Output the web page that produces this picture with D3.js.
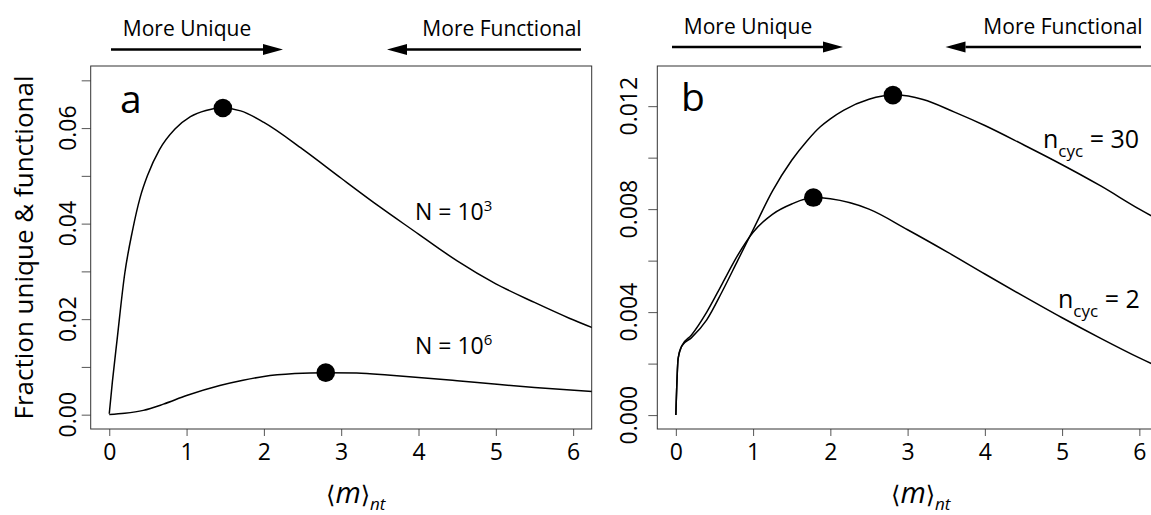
<!DOCTYPE html>
<html>
<head>
<meta charset="utf-8">
<script src="https://cdn.jsdelivr.net/npm/d3@7"></script>
<style>
  body { margin: 0; background: #fff; }
  svg { display: block; }
  text { font-family: "Open Sans", "DejaVu Sans", sans-serif; fill: #000; }
</style>
</head>
<body>
<svg id="chart" width="1151" height="515"></svg>
<script>
// ---- Panel a: fraction unique & functional vs <m>_nt, two library sizes ----
const mN3 = [0, 0.04, 0.1, 0.2, 0.3, 0.4, 0.5, 0.65, 0.85, 1.05, 1.25, 1.47, 1.7, 2.0, 2.5, 3.0, 3.5, 4.0, 4.27, 4.5, 5.0, 5.5, 5.95, 6.3];
const fN3 = [0.0002, 0.0068, 0.0155, 0.0295, 0.0385, 0.0455, 0.0503, 0.0555, 0.0598, 0.0624, 0.0637, 0.0642, 0.0636, 0.0612, 0.0556, 0.0495, 0.0435, 0.0378, 0.0347, 0.0322, 0.0274, 0.0235, 0.0202, 0.0179];
const mN6 = [0, 0.2, 0.44, 0.7, 1.0, 1.43, 1.73, 2.0, 2.4, 2.8, 3.2, 3.6, 4.0, 4.5, 5.05, 5.5, 6.3];
const fN6 = [0.00005, 0.0003, 0.0009, 0.0022, 0.0040, 0.0061, 0.0072, 0.0080, 0.0086, 0.0088, 0.0087, 0.0083, 0.0078, 0.0071, 0.0063, 0.0057, 0.0048];
const peaksA = [[1.47, 0.0642], [2.8, 0.0088]];

// ---- Panel b: two numbers of PCR cycles ----
const mC30 = [0, 0.03, 0.08, 0.2, 0.4, 0.6, 0.8, 1.0, 1.25, 1.5, 1.7, 1.87, 2.0, 2.17, 2.5, 2.85, 3.2, 3.6, 4.0, 4.5, 4.89, 5.5, 6.0, 6.3];
const fC30 = [0, 0.0022, 0.0027, 0.0030, 0.0037, 0.0048, 0.0060, 0.0072, 0.0087, 0.0099, 0.01066, 0.0112, 0.01151, 0.01184, 0.01227, 0.01243, 0.01226, 0.01178, 0.01125, 0.0105, 0.0099, 0.0089, 0.0080, 0.0075];
const mC2 = [0, 0.03, 0.08, 0.2, 0.4, 0.6, 0.8, 1.0, 1.25, 1.5, 1.78, 2.0, 2.5, 3.0, 3.51, 4.0, 4.5, 5.0, 5.5, 6.0, 6.3];
const fC2 = [0, 0.0022, 0.0027, 0.0031, 0.0040, 0.0051, 0.0062, 0.0071, 0.0078, 0.0082, 0.00845, 0.0084, 0.0080, 0.0072, 0.00634, 0.00548, 0.00462, 0.00378, 0.00298, 0.00222, 0.0018];
const peaksB = [[2.81, 0.01243], [1.78, 0.00845]];

// ---- Tick values ----
const xTicks = [0, 1, 2, 3, 4, 5, 6];
const yTicksA = [0, 0.01, 0.02, 0.03, 0.04, 0.05, 0.06, 0.07];
const yLabelsA = ["0.00", "0.02", "0.04", "0.06"];
const yTicksB = [0, 0.002, 0.004, 0.006, 0.008, 0.010, 0.012];
const yLabelsB = ["0.000", "0.004", "0.008", "0.012"];

const svg = d3.select("#chart");
const zip = (xs, ys) => xs.map((x, i) => [x, ys[i]]);

function panel(cfg) {
  const x = d3.scaleLinear().domain([-0.24, 6.24]).range([cfg.left, cfg.right]);
  const y = d3.scaleLinear().domain(cfg.yDomain).range([cfg.bottom, cfg.top]);
  const g = svg.append("g");

  const clipId = "clip-" + cfg.name;
  svg.append("clipPath").attr("id", clipId)
    .append("rect")
    .attr("x", cfg.left).attr("y", cfg.top)
    .attr("width", cfg.right - cfg.left).attr("height", cfg.bottom - cfg.top);

  // x axis
  const xa = g.append("g").attr("transform", `translate(0,${cfg.bottom})`)
    .call(d3.axisBottom(x).tickValues(xTicks).tickSize(7).tickPadding(8).tickFormat(d3.format("d")));
  xa.select(".domain").remove();
  xa.selectAll("line").attr("stroke", "#555");
  xa.selectAll("text").attr("font-size", 23).attr("font-family", null);

  // y axis: ticks, labels rotated parallel to the axis
  const ya = g.append("g").attr("transform", `translate(${cfg.left},0)`)
    .call(d3.axisLeft(y).tickValues(cfg.yTicks).tickSize(9).tickFormat(""));
  ya.select(".domain").remove();
  ya.selectAll("line").attr("stroke", "#555");
  g.selectAll(null).data(cfg.yLabels).enter().append("text")
    .attr("transform", d => `translate(${cfg.labelX},${y(+d)}) rotate(-90)`)
    .attr("text-anchor", "middle")
    .attr("font-size", 23)
    .text(d => d);

  // frame
  g.append("rect")
    .attr("x", cfg.left).attr("y", cfg.top)
    .attr("width", cfg.right - cfg.left).attr("height", cfg.bottom - cfg.top)
    .attr("fill", "none").attr("stroke", "#333").attr("stroke-width", 1);

  // curves
  const line = d3.line().x(d => x(d[0])).y(d => y(d[1])).curve(d3.curveMonotoneX);
  const plot = g.append("g").attr("clip-path", `url(#${clipId})`);
  cfg.series.forEach(s => {
    plot.append("path").attr("d", line(s))
      .attr("fill", "none").attr("stroke", "#000").attr("stroke-width", 1.5);
  });
  plot.selectAll("circle").data(cfg.peaks).enter().append("circle")
    .attr("cx", d => x(d[0])).attr("cy", d => y(d[1])).attr("r", 9.3)
    .attr("fill", "#000");

  // panel letter
  g.append("text").attr("x", cfg.letterX).attr("y", cfg.letterY)
    .attr("font-size", 39).text(cfg.letter);

  // x axis title  <m>_nt
  const xt = g.append("text").attr("x", cfg.xTitleX).attr("y", 503).attr("font-size", 29);
  xt.append("tspan").attr("font-family", "DejaVu Sans").attr("font-size", 24).text("\u27E8");
  xt.append("tspan").attr("font-style", "italic").text("m");
  xt.append("tspan").attr("font-family", "DejaVu Sans").attr("font-size", 24).text("\u27E9");
  xt.append("tspan").attr("font-style", "italic").attr("font-size", 17).attr("dy", 7).text("nt");

  // direction arrows
  const arrows = g.append("g");
  cfg.arrows.forEach(a => {
    const dir = Math.sign(a.tip - a.tail);
    const base = a.tip - dir * 20;
    arrows.append("line").attr("x1", a.tail).attr("x2", base).attr("y1", a.y).attr("y2", a.y)
      .attr("stroke", "#000").attr("stroke-width", 2.7);
    arrows.append("path")
      .attr("d", `M${a.tip},${a.y} L${base},${a.y - 5.5} L${base},${a.y + 5.5} Z`)
      .attr("fill", "#000");
    arrows.append("text").attr("x", a.textX).attr("y", a.textY)
      .attr("text-anchor", "middle").attr("font-size", 21).text(a.label);
  });
  return { x, y, g };
}

const A = panel({
  name: "a", letter: "a", left: 90.7, right: 591.7, top: 66, bottom: 429,
  yDomain: [-0.0030, 0.0730], yTicks: yTicksA, yLabels: yLabelsA, labelX: 76,
  series: [zip(mN3, fN3), zip(mN6, fN6)], peaks: peaksA,
  letterX: 120, letterY: 113, xTitleX: 326,
  arrows: [
    { tail: 111, tip: 283, y: 49.5, label: "More Unique", textX: 187, textY: 36 },
    { tail: 581, tip: 387, y: 49.5, label: "More Functional", textX: 502, textY: 36 }
  ]
});

const B = panel({
  name: "b", letter: "b", left: 657.3, right: 1157.9, top: 66, bottom: 429,
  yDomain: [-0.00054, 0.01356], yTicks: yTicksB, yLabels: yLabelsB, labelX: 637,
  series: [zip(mC30, fC30), zip(mC2, fC2)], peaks: peaksB,
  letterX: 681, letterY: 111, xTitleX: 891,
  arrows: [
    { tail: 672, tip: 843, y: 47, label: "More Unique", textX: 748, textY: 33.5 },
    { tail: 1141, tip: 945.5, y: 47, label: "More Functional", textX: 1063, textY: 33.5 }
  ]
});

// y axis title (panel a only)
svg.append("text")
  .attr("transform", `translate(33,${(66 + 429) / 2}) rotate(-90)`)
  .attr("text-anchor", "middle").attr("font-size", 26)
  .text("Fraction unique & functional");

// curve annotations
function supLabel(g, xPos, yPos, base, sup) {
  const t = g.append("text").attr("x", xPos).attr("y", yPos).attr("font-size", 23);
  t.append("tspan").text(base);
  t.append("tspan").attr("font-size", 15).attr("dy", -9).text(sup);
}
supLabel(A.g, 415, 220, "N = 10", "3");
supLabel(A.g, 415, 354, "N = 10", "6");

function cycLabel(g, xPos, yPos, val) {
  const t = g.append("text").attr("x", xPos).attr("y", yPos).attr("font-size", 25);
  t.append("tspan").text("n");
  t.append("tspan").attr("font-size", 17).attr("dy", 9).text("cyc");
  t.append("tspan").attr("dy", -9).text(" = " + val);
}
cycLabel(B.g, 1043, 147.5, "30");
cycLabel(B.g, 1058, 307.5, "2");
</script>
</body>
</html>
